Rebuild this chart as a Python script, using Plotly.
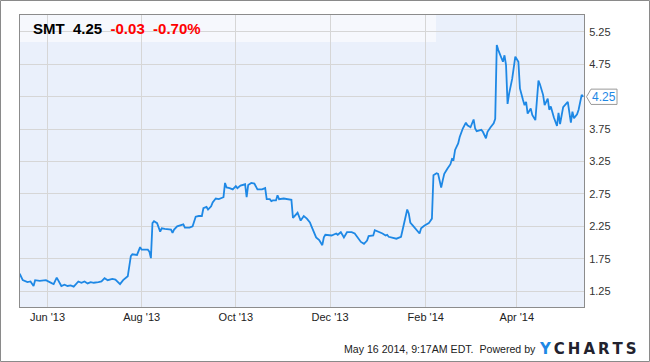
import plotly.graph_objects as go

dates = [
    "2013-05-14", "2013-05-16", "2013-05-19", "2013-05-21", "2013-05-23", "2013-05-24",
    "2013-05-27", "2013-05-31", "2013-06-04", "2013-06-05", "2013-06-07", "2013-06-09",
    "2013-06-10", "2013-06-12", "2013-06-14", "2013-06-16", "2013-06-18", "2013-06-21",
    "2013-06-23", "2013-06-25", "2013-06-27", "2013-06-29", "2013-07-01", "2013-07-04",
    "2013-07-06", "2013-07-08", "2013-07-10", "2013-07-13", "2013-07-15", "2013-07-18",
    "2013-07-20", "2013-07-23", "2013-07-25", "2013-07-26", "2013-07-29", "2013-07-31",
    "2013-08-01", "2013-08-05", "2013-08-06", "2013-08-07", "2013-08-08", "2013-08-09",
    "2013-08-11", "2013-08-13", "2013-08-14", "2013-08-16", "2013-08-19", "2013-08-20",
    "2013-08-21", "2013-08-22", "2013-08-24", "2013-08-26", "2013-08-28", "2013-08-29",
    "2013-09-01", "2013-09-03", "2013-09-05", "2013-09-07", "2013-09-09", "2013-09-10",
    "2013-09-12", "2013-09-13", "2013-09-15", "2013-09-16", "2013-09-18", "2013-09-20",
    "2013-09-22", "2013-09-23", "2013-09-24", "2013-09-25", "2013-09-27", "2013-09-29",
    "2013-10-01", "2013-10-02", "2013-10-04", "2013-10-07", "2013-10-08", "2013-10-09",
    "2013-10-11", "2013-10-13", "2013-10-15", "2013-10-18", "2013-10-20", "2013-10-21",
    "2013-10-23", "2013-10-24", "2013-10-25", "2013-10-27", "2013-10-28", "2013-10-29",
    "2013-11-01", "2013-11-05", "2013-11-06", "2013-11-07", "2013-11-08", "2013-11-10",
    "2013-11-12", "2013-11-13", "2013-11-14", "2013-11-16", "2013-11-18", "2013-11-19",
    "2013-11-21", "2013-11-22", "2013-11-24", "2013-11-26", "2013-11-27", "2013-11-28",
    "2013-12-02", "2013-12-03", "2013-12-05", "2013-12-06", "2013-12-08", "2013-12-09",
    "2013-12-10", "2013-12-12", "2013-12-15", "2013-12-17", "2013-12-18", "2013-12-20",
    "2013-12-21", "2013-12-23", "2013-12-25", "2013-12-26", "2013-12-29", "2013-12-30",
    "2014-01-01", "2014-01-02", "2014-01-04", "2014-01-06", "2014-01-07", "2014-01-08",
    "2014-01-12", "2014-01-13", "2014-01-16", "2014-01-18", "2014-01-20", "2014-01-21",
    "2014-01-22", "2014-01-23", "2014-01-26", "2014-01-28", "2014-01-29", "2014-01-31",
    "2014-02-03", "2014-02-04", "2014-02-05", "2014-02-06", "2014-02-08", "2014-02-09",
    "2014-02-11", "2014-02-12", "2014-02-13", "2014-02-15", "2014-02-17", "2014-02-18",
    "2014-02-19", "2014-02-20", "2014-02-22", "2014-02-23", "2014-02-24", "2014-02-25",
    "2014-02-27", "2014-02-28", "2014-03-02", "2014-03-03", "2014-03-04", "2014-03-05",
    "2014-03-06", "2014-03-09", "2014-03-10", "2014-03-12", "2014-03-13", "2014-03-15",
    "2014-03-17", "2014-03-18", "2014-03-19", "2014-03-20", "2014-03-22", "2014-03-23",
    "2014-03-24", "2014-03-25", "2014-03-26", "2014-03-27", "2014-03-29", "2014-03-30",
    "2014-03-31", "2014-04-02", "2014-04-03", "2014-04-05", "2014-04-06", "2014-04-07",
    "2014-04-08", "2014-04-10", "2014-04-11", "2014-04-13", "2014-04-15", "2014-04-16",
    "2014-04-18", "2014-04-19", "2014-04-21", "2014-04-22", "2014-04-23", "2014-04-25",
    "2014-04-27", "2014-04-28", "2014-04-29", "2014-05-01", "2014-05-03", "2014-05-04",
    "2014-05-06", "2014-05-07", "2014-05-08", "2014-05-10", "2014-05-11", "2014-05-13",
    "2014-05-14",
]

prices = [
    1.52, 1.42, 1.39, 1.40, 1.33, 1.42,
    1.41, 1.42, 1.37, 1.36, 1.46, 1.38,
    1.33, 1.35, 1.33, 1.34, 1.32, 1.40,
    1.38, 1.40, 1.37, 1.39, 1.38, 1.39,
    1.40, 1.45, 1.42, 1.44, 1.43, 1.36,
    1.42, 1.48, 1.79, 1.82, 1.81, 1.93,
    1.89, 1.89, 1.86, 1.76, 2.30, 2.33,
    2.30, 2.17, 2.22, 2.21, 2.21, 2.20,
    2.15, 2.20, 2.25, 2.26, 2.28, 2.23,
    2.23, 2.25, 2.40, 2.41, 2.41, 2.53,
    2.55, 2.51, 2.56, 2.62, 2.68, 2.67,
    2.69, 2.70, 2.92, 2.85, 2.84, 2.82,
    2.87, 2.84, 2.88, 2.90, 2.70, 2.89,
    2.92, 2.91, 2.82, 2.82, 2.84, 2.67,
    2.67, 2.64, 2.65, 2.65, 2.73, 2.67,
    2.68, 2.67, 2.66, 2.38, 2.41, 2.46,
    2.34, 2.38, 2.41, 2.37, 2.31, 2.25,
    2.12, 2.08, 2.04, 1.96, 2.08, 2.12,
    2.11, 2.12, 2.14, 2.12, 2.16, 2.12,
    2.08, 2.16, 2.16, 2.14, 2.11, 2.05,
    2.01, 1.98, 2.03, 2.10, 2.11, 2.19,
    2.17, 2.17, 2.14, 2.11, 2.12, 2.09,
    2.06, 2.06, 2.09, 2.30, 2.51, 2.45,
    2.31, 2.28, 2.20, 2.14, 2.22, 2.26,
    2.30, 2.33, 2.37, 3.04, 3.07, 3.06,
    2.85, 2.96, 3.06, 3.14, 3.21, 3.29,
    3.28, 3.43, 3.53, 3.63, 3.71, 3.76,
    3.85, 3.81, 3.78, 3.83, 3.90, 3.76,
    3.72, 3.74, 3.71, 3.61, 3.71, 3.78,
    3.84, 3.91, 5.05, 4.97, 4.84, 4.79,
    4.89, 4.74, 4.14, 4.30, 4.53, 4.74,
    4.87, 4.79, 4.38, 4.20, 4.12, 4.17,
    3.99, 4.07, 3.97, 3.89, 4.50, 4.44,
    4.28, 4.12, 4.22, 4.05, 4.10, 3.93,
    3.80, 4.00, 3.83, 4.09, 4.15, 4.17,
    3.85, 4.02, 3.92, 3.98, 4.05, 4.28,
    4.25,
]

ytick_vals = [1.25, 1.75, 2.25, 2.75, 3.25, 3.75, 4.25, 4.75, 5.25]

ticker = "SMT"
last_price = "4.25"
change = "-0.03"
change_pct = "-0.70%"
footer = "May 16 2014, 9:17AM EDT.  Powered by"
logo_first = "Y"
logo_rest = "CHARTS"

W, H = 650, 362
L, R, T, B = 20, 66, 15, 55
PW, PH = W - L - R, H - T - B

def px(x):
    return (x - L) / PW

def py(y):
    return (H - B - y) / PH

LINE = "#1E88E5"
FONT = "Liberation Sans, Arial, sans-serif"

last = prices[-1]
# the last-value box stands where the tick label of the same value would be
ytick_text = ["" if abs(v - last) < 1e-9 else f"{v:.2f}" for v in ytick_vals]

fig = go.Figure()
fig.add_trace(go.Scatter(
    x=dates, y=prices, mode="lines",
    line=dict(color=LINE, width=1.8),
    hoverinfo="skip", showlegend=False,
))

fig.update_layout(
    width=W, height=H,
    margin=dict(l=L, r=R, t=T, b=B),
    paper_bgcolor="white",
    plot_bgcolor="#EAF0FB",
    font=dict(family=FONT, size=11, color="#333333"),
    xaxis=dict(
        type="date",
        range=["2013-05-14 05:00", "2014-05-14 12:00"],
        tick0="2013-06-01", dtick="M2", tickformat="%b '%y",
        showgrid=True, gridcolor="#D6D6D6", gridwidth=1,
        showline=True, linecolor="#8C8C8C", linewidth=1, mirror=True,
        ticks="", zeroline=False,
        tickfont=dict(size=11, color="#222222"),
    ),
    yaxis=dict(
        side="right",
        range=[1.006, 5.512],
        tickvals=ytick_vals, ticktext=ytick_text,
        showgrid=True, gridcolor="#D6D6D6", gridwidth=1,
        showline=True, linecolor="#8C8C8C", linewidth=1, mirror=True,
        ticks="", zeroline=False, ticklabelstandoff=2,
        tickfont=dict(size=11, color="#333333"),
    ),
)

shapes = []
# lighter header band
shapes.append(dict(type="rect", xref="paper", yref="paper",
                   x0=px(20), x1=px(436), y0=py(42), y1=py(15),
                   fillcolor="rgba(255,255,255,0.55)", line=dict(width=0),
                   layer="between"))
# outer border of the picture
shapes.append(dict(type="rect", xref="paper", yref="paper",
                   x0=px(0.5), x1=px(W - 0.5), y0=py(H - 0.5), y1=py(0.5),
                   line=dict(color="#8A8A8A", width=1), fillcolor="rgba(0,0,0,0)",
                   layer="above"))
# last-value pointer box
hh = 0.118
xa, xb, xc = px(586.5), px(591), px(617)
shapes.append(dict(type="path", xref="paper", yref="y",
                   path=f"M {xa},{last} L {xb},{last+hh} L {xc},{last+hh} L {xc},{last-hh} L {xb},{last-hh} Z",
                   fillcolor="white", line=dict(color="#9A9A9A", width=1),
                   layer="above"))
fig.update_layout(shapes=shapes)

annotations = [
    dict(xref="paper", yref="paper", x=px(31), y=py(28.5),
         xanchor="left", yanchor="middle", showarrow=False,
         text=(f"<b>{ticker}&nbsp;&nbsp;{last_price}&nbsp;&nbsp;"
               f"<span style='color:#FF0000'>{change}&nbsp;&nbsp;{change_pct}</span></b>"),
         font=dict(family=FONT, size=15, color="#000000")),
    dict(xref="paper", yref="y", x=px(604), y=last,
         xanchor="center", yanchor="middle", showarrow=False,
         text=f"{last:.2f}",
         font=dict(family=FONT, size=12, color=LINE)),
    dict(xref="paper", yref="paper", x=px(341.5), y=py(349),
         xanchor="left", yanchor="middle", showarrow=False,
         text=footer,
         font=dict(family=FONT, size=10.6, color="#222222")),
    dict(xref="paper", yref="paper", x=px(638.5), y=py(348.5),
         xanchor="right", yanchor="middle", showarrow=False,
         text=(f"<b><span style='color:#1E88E5'>{logo_first}</span>"
               f"{chr(0x2009)}{chr(0x2009).join(logo_rest)}</b>"),
         font=dict(family="DejaVu Sans", size=15, color="#22222E")),
]
fig.update_layout(annotations=annotations)

fig.write_html("out.html")
